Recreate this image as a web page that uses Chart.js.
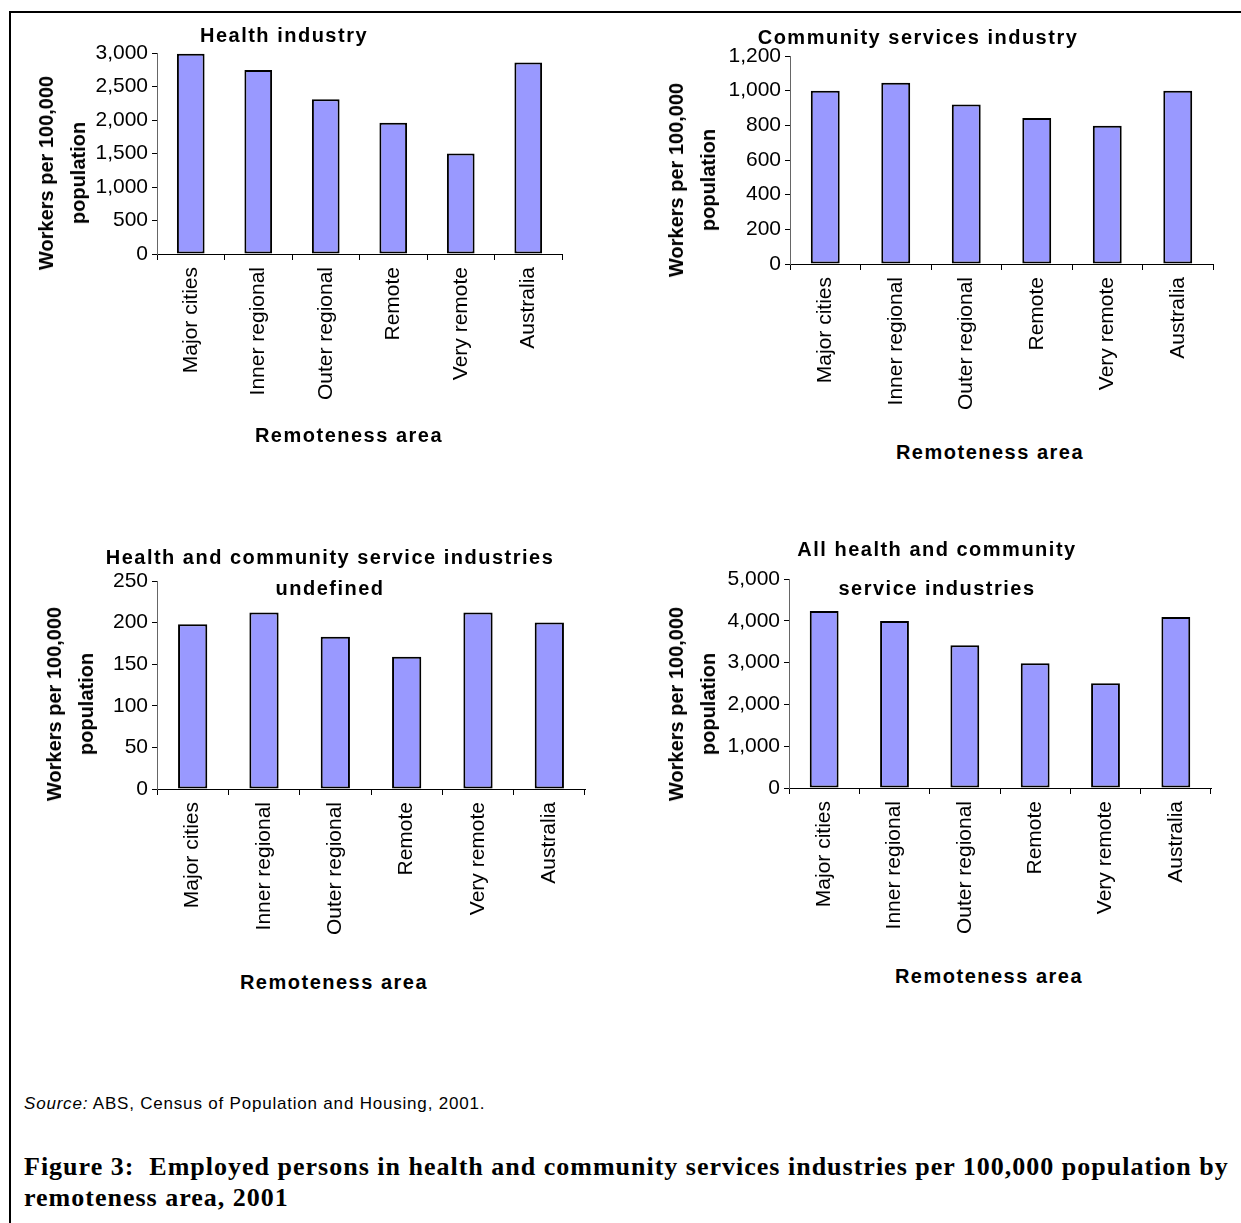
<!DOCTYPE html>
<html>
<head>
<meta charset="utf-8">
<script src="https://cdn.jsdelivr.net/npm/chart.js@4.4.0/dist/chart.umd.min.js"></script>
<style>
  body { margin: 0; background: #fff; width: 1241px; height: 1223px; position: relative; overflow: hidden;
         font-family: "Liberation Sans", Arial, sans-serif; color: #000; }
  .frame-top { position: absolute; left: 9px; top: 11px; width: 1232px; height: 2px; background: #000; }
  .frame-left { position: absolute; left: 9px; top: 11px; width: 2px; height: 1212px; background: #000; }
  canvas { position: absolute; }
  .title { position: absolute; transform: translate(-50%, -50%); white-space: nowrap;
           font-weight: bold; font-size: 20px; letter-spacing: 1.5px; }
  .ytitle { position: absolute; transform: translate(-50%, -50%) rotate(-90deg); white-space: nowrap;
            font-weight: bold; font-size: 20px; line-height: 32px; text-align: center; }
  .source { position: absolute; left: 24px; top: 1094px; font-size: 17px; letter-spacing: 0.8px; }
  .caption { position: absolute; left: 24px; top: 1151px; font-family: "Liberation Serif", serif;
             font-weight: bold; font-size: 26px; letter-spacing: 1px; line-height: 31px; }
</style>
</head>
<body>
<div class="frame-top"></div>
<div class="frame-left"></div>

<canvas id="health"></canvas>
<canvas id="community"></canvas>
<canvas id="undefinedInd"></canvas>
<canvas id="allInd"></canvas>

<div class="title" style="left:284px;top:35px">Health industry</div>
<div class="title" style="left:918px;top:37px">Community services industry</div>
<div class="title" style="left:330px;top:557px">Health and community service industries</div>
<div class="title" style="left:330px;top:588px">undefined</div>
<div class="title" style="left:937px;top:549px">All health and community</div>
<div class="title" style="left:937px;top:588px">service industries</div>

<div class="ytitle" style="left:62px;top:173px">Workers per 100,000<br>population</div>
<div class="ytitle" style="left:692px;top:180px">Workers per 100,000<br>population</div>
<div class="ytitle" style="left:70px;top:704px">Workers per 100,000<br>population</div>
<div class="ytitle" style="left:692px;top:704px">Workers per 100,000<br>population</div>

<div class="title" style="left:349px;top:435px">Remoteness area</div>
<div class="title" style="left:990px;top:452px">Remoteness area</div>
<div class="title" style="left:334px;top:982px">Remoteness area</div>
<div class="title" style="left:989px;top:976px">Remoteness area</div>

<div class="source"><i>Source:</i> ABS, Census of Population and Housing, 2001.</div>
<div class="caption">Figure 3:&nbsp; Employed persons in health and community services industries per 100,000 population by<br>remoteness area, 2001</div>

<script>
const categories = ['Major cities', 'Inner regional', 'Outer regional', 'Remote', 'Very remote', 'Australia'];

const healthIndustry    = [2990, 2745, 2310, 1960, 1500, 2860];
const communityServices = [1000, 1046, 920, 843, 798, 1000];
const undefinedIndustry = [198, 212, 183, 159, 212, 200];
const allIndustries     = [4236, 3995, 3416, 2982, 2508, 4092];

const healthTicks    = [0, 500, 1000, 1500, 2000, 2500, 3000];
const communityTicks = [0, 200, 400, 600, 800, 1000, 1200];
const undefinedTicks = [0, 50, 100, 150, 200, 250];
const allTicks       = [0, 1000, 2000, 3000, 4000, 5000];

const FONT = '"Liberation Sans", Arial, sans-serif';

// plot = [left, top, right, bottom] of the plotting area on the page
function barPanel(id, values, ticks, plot) {
  const canvas = document.getElementById(id);
  const cx = plot[0] - 140, cy = plot[1] - 25;
  const cw = plot[2] - cx + 15, ch = plot[3] - cy + 170;
  canvas.style.left = cx + 'px';
  canvas.style.top = cy + 'px';
  canvas.width = cw;
  canvas.height = ch;
  canvas.style.width = cw + 'px';
  canvas.style.height = ch + 'px';

  return new Chart(canvas, {
    type: 'bar',
    data: {
      labels: categories,
      datasets: [{
        data: values,
        backgroundColor: '#9999ff',
        borderColor: '#000',
        borderWidth: 2,
        borderSkipped: false,
        categoryPercentage: 1,
        barPercentage: 0.41
      }]
    },
    options: {
      responsive: false,
      animation: false,
      devicePixelRatio: 1,
      layout: { padding: { left: 10, top: 25, right: 15, bottom: 5 } },
      plugins: { legend: { display: false }, tooltip: { enabled: false } },
      scales: {
        x: {
          grid: { offset: true, drawOnChartArea: false, drawTicks: true, tickLength: 6, color: '#000' },
          border: { color: '#000', width: 1 },
          ticks: { minRotation: 90, maxRotation: 90, autoSkip: false, padding: 7,
                   color: '#000', font: { family: FONT, size: 21 } },
          afterFit: function (s) { s.height = 165; }
        },
        y: {
          min: ticks[0],
          max: ticks[ticks.length - 1],
          afterBuildTicks: function (s) { s.ticks = ticks.map(v => ({ value: v })); },
          grid: { drawOnChartArea: false, drawTicks: true, tickLength: 5, color: '#000' },
          border: { color: '#666', width: 1 },
          ticks: { padding: 4, color: '#000', font: { family: FONT, size: 21 },
                   callback: v => v.toLocaleString('en-US') },
          afterFit: function (s) { s.width = 130; }
        }
      }
    }
  });
}

barPanel('health', healthIndustry, healthTicks, [157, 53, 562, 254]);
barPanel('community', communityServices, communityTicks, [790, 56, 1213, 264]);
barPanel('undefinedInd', undefinedIndustry, undefinedTicks, [157, 581, 585, 789]);
barPanel('allInd', allIndustries, allTicks, [789, 579, 1211, 788]);
</script>
</body>
</html>
